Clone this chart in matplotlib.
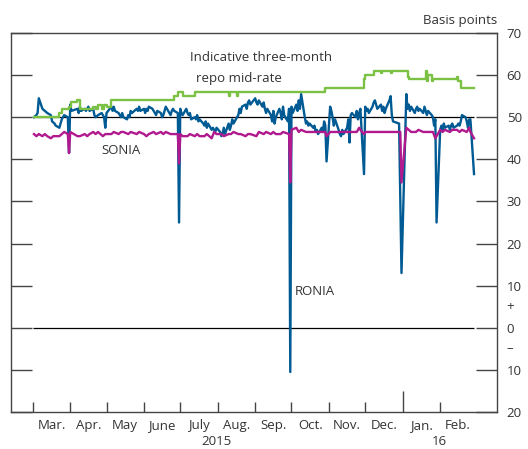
import matplotlib
matplotlib.use('agg')
import matplotlib.pyplot as plt
import matplotlib.ticker as mticker
import pandas as pd

plt.rcParams['font.family'] = ['Open Sans', 'DejaVu Sans']

# RONIA (overnight, blue)
ronia_dates = [
    '2015-03-02', '2015-03-04', '2015-03-05', '2015-03-06', '2015-03-09', '2015-03-11', '2015-03-13',
    '2015-03-16', '2015-03-17', '2015-03-19', '2015-03-20', '2015-03-23', '2015-03-24', '2015-03-25',
    '2015-03-26', '2015-03-27', '2015-03-30', '2015-03-31', '2015-04-01', '2015-04-02', '2015-04-07',
    '2015-04-08', '2015-04-09', '2015-04-10', '2015-04-13', '2015-04-14', '2015-04-16', '2015-04-17',
    '2015-04-20', '2015-04-21', '2015-04-22', '2015-04-24', '2015-04-27', '2015-04-29', '2015-04-30',
    '2015-05-01', '2015-05-05', '2015-05-06', '2015-05-07', '2015-05-08', '2015-05-11', '2015-05-12',
    '2015-05-13', '2015-05-14', '2015-05-15', '2015-05-18', '2015-05-19', '2015-05-20', '2015-05-21',
    '2015-05-22', '2015-05-26', '2015-05-27', '2015-05-28', '2015-05-29', '2015-06-01', '2015-06-02',
    '2015-06-03', '2015-06-04', '2015-06-05', '2015-06-08', '2015-06-09', '2015-06-10', '2015-06-11',
    '2015-06-12', '2015-06-15', '2015-06-16', '2015-06-17', '2015-06-18', '2015-06-19', '2015-06-22',
    '2015-06-23', '2015-06-24', '2015-06-25', '2015-06-26', '2015-06-29', '2015-06-30', '2015-07-01',
    '2015-07-02', '2015-07-03', '2015-07-06', '2015-07-07', '2015-07-08', '2015-07-09', '2015-07-10',
    '2015-07-13', '2015-07-14', '2015-07-15', '2015-07-16', '2015-07-17', '2015-07-20', '2015-07-21',
    '2015-07-22', '2015-07-23', '2015-07-24', '2015-07-27', '2015-07-28', '2015-07-29', '2015-07-30',
    '2015-07-31', '2015-08-03', '2015-08-04', '2015-08-05', '2015-08-06', '2015-08-07', '2015-08-10',
    '2015-08-11', '2015-08-12', '2015-08-13', '2015-08-14', '2015-08-17', '2015-08-18', '2015-08-19',
    '2015-08-20', '2015-08-21', '2015-08-24', '2015-08-25', '2015-08-26', '2015-08-27', '2015-08-28',
    '2015-09-01', '2015-09-02', '2015-09-03', '2015-09-04', '2015-09-07', '2015-09-08', '2015-09-09',
    '2015-09-10', '2015-09-11', '2015-09-14', '2015-09-15', '2015-09-16', '2015-09-17', '2015-09-18',
    '2015-09-21', '2015-09-22', '2015-09-23', '2015-09-24', '2015-09-25', '2015-09-28', '2015-09-29',
    '2015-09-30', '2015-10-01', '2015-10-02', '2015-10-05', '2015-10-06', '2015-10-07', '2015-10-08',
    '2015-10-09', '2015-10-12', '2015-10-13', '2015-10-14', '2015-10-15', '2015-10-16', '2015-10-19',
    '2015-10-20', '2015-10-21', '2015-10-22', '2015-10-23', '2015-10-26', '2015-10-27', '2015-10-28',
    '2015-10-29', '2015-10-30', '2015-11-02', '2015-11-03', '2015-11-04', '2015-11-05', '2015-11-06',
    '2015-11-09', '2015-11-10', '2015-11-11', '2015-11-12', '2015-11-13', '2015-11-16', '2015-11-17',
    '2015-11-18', '2015-11-19', '2015-11-20', '2015-11-23', '2015-11-24', '2015-11-25', '2015-11-26',
    '2015-11-27', '2015-11-30', '2015-12-01', '2015-12-02', '2015-12-03', '2015-12-04', '2015-12-07',
    '2015-12-08', '2015-12-09', '2015-12-10', '2015-12-11', '2015-12-14', '2015-12-15', '2015-12-16',
    '2015-12-17', '2015-12-18', '2015-12-21', '2015-12-22', '2015-12-23', '2015-12-24', '2015-12-29',
    '2015-12-31', '2016-01-04', '2016-01-05', '2016-01-06', '2016-01-07', '2016-01-08', '2016-01-11',
    '2016-01-12', '2016-01-13', '2016-01-14', '2016-01-15', '2016-01-18', '2016-01-19', '2016-01-20',
    '2016-01-21', '2016-01-22', '2016-01-25', '2016-01-26', '2016-01-27', '2016-01-28', '2016-01-29',
    '2016-02-01', '2016-02-02', '2016-02-03', '2016-02-04', '2016-02-05', '2016-02-08', '2016-02-09',
    '2016-02-10', '2016-02-11', '2016-02-12', '2016-02-15', '2016-02-16', '2016-02-17', '2016-02-18',
    '2016-02-19', '2016-02-22', '2016-02-23', '2016-02-24', '2016-02-25', '2016-02-26', '2016-02-29',
]
ronia_values = [
    50.0, 50.5, 51.0, 54.5, 52.0, 51.5, 51.0,
    50.5, 49.0, 48.5, 48.0, 47.5, 48.5, 49.5,
    50.0, 50.5, 50.0, 41.5, 53.0, 51.5, 52.0,
    51.0, 52.5, 51.5, 52.0, 51.5, 52.5, 51.5,
    52.0, 50.5, 50.0, 50.5, 51.0, 50.0, 47.5,
    51.0, 52.5, 51.5, 52.5, 51.5, 51.0, 50.5,
    50.0, 51.0, 50.0, 49.5, 50.5, 50.0, 51.5,
    51.0, 52.0, 51.5, 52.5, 51.5, 52.0, 51.0,
    52.0, 51.5, 52.5, 52.0, 51.5, 51.0, 50.5,
    51.5, 51.0, 50.0, 50.5, 51.5, 52.5, 51.0,
    50.5, 51.5, 52.0, 51.5, 51.0, 25.0, 52.0,
    51.0, 50.5, 52.0, 51.0, 50.5, 51.0, 49.5,
    50.0, 49.5, 50.5, 49.0, 49.5, 48.5, 48.0,
    49.0, 47.5, 48.5, 47.0, 47.5, 47.0, 46.5,
    47.5, 46.5, 45.5, 46.0, 47.5, 46.0, 48.5,
    47.0, 48.0, 49.5, 48.5, 50.0, 50.5, 52.0,
    51.0, 52.5, 53.0, 52.0, 53.5, 54.0, 53.0,
    54.5, 53.5, 53.0, 54.0, 52.5, 53.5, 52.0,
    51.0, 52.0, 50.5, 49.0, 51.5, 48.5, 50.0,
    52.0, 51.0, 49.5, 52.5, 50.5, 49.0, 52.0,
    -10.5, 52.5, 51.0, 53.0, 51.5, 54.0, 52.0,
    55.5, 50.0, 48.5, 49.0, 48.0, 48.5, 47.5,
    48.0, 46.5, 47.0, 46.0, 47.5, 46.5, 49.0,
    48.0, 39.5, 52.5, 51.5, 50.0, 48.0, 49.5,
    47.0, 46.0, 45.5, 47.0, 46.0, 47.5, 49.5,
    44.0, 50.5, 51.0, 50.0, 51.5, 49.5, 51.0,
    52.0, 36.5, 52.5, 51.5, 52.0, 51.0, 52.5,
    53.5, 54.0, 53.0, 52.0, 53.0, 51.5, 52.5,
    51.0, 52.0, 54.0, 55.0, 50.5, 49.0, 48.5,
    13.0, 55.5, 52.0, 53.0, 51.5, 52.5, 51.0,
    52.0, 52.5, 51.5, 52.0, 51.0, 52.5, 51.5,
    50.5, 51.5, 50.5, 50.0, 48.0, 49.5, 25.0,
    47.0, 48.0, 47.0, 48.5, 47.5, 48.0, 47.0,
    48.0, 48.5, 47.5, 48.0, 48.5, 48.0, 49.0,
    50.5, 50.0, 49.0, 47.5, 49.5, 49.5, 36.5,
]

# SONIA (magenta)
sonia_dates = [
    '2015-03-02', '2015-03-04', '2015-03-06', '2015-03-09', '2015-03-11', '2015-03-13', '2015-03-16',
    '2015-03-18', '2015-03-20', '2015-03-23', '2015-03-25', '2015-03-27', '2015-03-30', '2015-03-31',
    '2015-04-01', '2015-04-07', '2015-04-09', '2015-04-13', '2015-04-15', '2015-04-17', '2015-04-20',
    '2015-04-22', '2015-04-24', '2015-04-28', '2015-04-30', '2015-05-05', '2015-05-07', '2015-05-11',
    '2015-05-13', '2015-05-15', '2015-05-19', '2015-05-21', '2015-05-26', '2015-05-28', '2015-06-01',
    '2015-06-03', '2015-06-05', '2015-06-09', '2015-06-11', '2015-06-15', '2015-06-17', '2015-06-19',
    '2015-06-23', '2015-06-25', '2015-06-29', '2015-06-30', '2015-07-01', '2015-07-03', '2015-07-07',
    '2015-07-09', '2015-07-13', '2015-07-15', '2015-07-17', '2015-07-21', '2015-07-23', '2015-07-27',
    '2015-07-29', '2015-07-31', '2015-08-04', '2015-08-06', '2015-08-10', '2015-08-12', '2015-08-14',
    '2015-08-18', '2015-08-20', '2015-08-24', '2015-08-26', '2015-08-28', '2015-09-02', '2015-09-04',
    '2015-09-08', '2015-09-10', '2015-09-14', '2015-09-16', '2015-09-18', '2015-09-22', '2015-09-24',
    '2015-09-29', '2015-09-30', '2015-10-01', '2015-10-05', '2015-10-07', '2015-10-09', '2015-10-13',
    '2015-10-15', '2015-10-20', '2015-10-29', '2015-10-30', '2015-11-02', '2015-11-18', '2015-11-24',
    '2015-11-26', '2015-11-27', '2015-11-30', '2015-12-01', '2015-12-30', '2015-12-31', '2016-01-04',
    '2016-01-06', '2016-01-08', '2016-01-12', '2016-01-14', '2016-01-18', '2016-01-22', '2016-01-26',
    '2016-01-28', '2016-01-29', '2016-02-01', '2016-02-03', '2016-02-05', '2016-02-09', '2016-02-11',
    '2016-02-15', '2016-02-17', '2016-02-19', '2016-02-23', '2016-02-25', '2016-02-26', '2016-02-29',
]
sonia_values = [
    46.0, 45.5, 46.0, 45.5, 46.0, 45.5, 45.0,
    45.5, 45.5, 45.5, 46.0, 46.5, 46.0, 41.5,
    46.5, 45.5, 45.5, 46.0, 45.5, 46.0, 46.5,
    46.0, 46.5, 45.5, 46.0, 46.0, 46.5, 46.0,
    46.5, 46.5, 46.0, 46.5, 46.0, 46.5, 46.0,
    45.5, 46.0, 46.5, 46.0, 46.5, 46.0, 46.5,
    46.0, 46.0, 46.0, 39.0, 46.0, 45.5, 45.5,
    46.0, 45.5, 46.0, 45.5, 45.5, 46.0, 45.0,
    46.5, 46.0, 46.0, 45.5, 46.0, 46.0, 46.5,
    46.0, 46.0, 45.5, 46.0, 46.0, 45.5, 46.5,
    46.0, 46.5, 46.0, 46.5, 46.0, 46.0, 46.5,
    46.0, 34.5, 47.0, 47.5, 46.5, 47.0, 46.5,
    46.5, 46.5, 46.5, 45.5, 46.5, 46.5, 46.5,
    47.5, 47.0, 46.0, 46.5, 46.5, 34.5, 47.5,
    47.0, 46.5, 46.5, 47.0, 46.5, 46.5, 46.5,
    45.0, 45.5, 47.0, 46.5, 47.0, 46.5, 47.0,
    47.0, 46.5, 47.0, 46.5, 47.5, 46.5, 45.0,
]

# Indicative three-month repo mid-rate (green, step-like)
repo_dates = [
    '2015-03-02', '2015-03-23', '2015-03-25', '2015-03-31', '2015-04-02', '2015-04-07', '2015-04-09',
    '2015-04-20', '2015-04-22', '2015-04-24', '2015-04-27', '2015-04-29', '2015-05-01', '2015-05-05',
    '2015-06-26', '2015-06-29', '2015-07-03', '2015-07-13', '2015-08-10', '2015-08-11', '2015-08-17',
    '2015-08-18', '2015-10-29', '2015-11-30', '2015-12-01', '2015-12-08', '2015-12-14', '2015-12-15',
    '2015-12-22', '2015-12-23', '2016-01-05', '2016-01-06', '2016-01-20', '2016-01-21', '2016-01-22',
    '2016-01-25', '2016-01-26', '2016-02-15', '2016-02-16', '2016-02-18', '2016-02-29',
]
repo_values = [
    50.0, 51.0, 52.0, 52.5, 53.5, 54.0, 52.0,
    52.5, 52.0, 53.0, 52.0, 53.0, 52.5, 54.0,
    55.0, 56.0, 55.0, 56.0, 55.0, 56.0, 55.0,
    56.0, 57.0, 59.0, 60.0, 61.0, 60.5, 61.0,
    60.5, 61.0, 59.5, 59.0, 61.0, 58.5, 60.0,
    58.5, 59.0, 59.5, 58.5, 57.0, 57.0,
]

month_labels = ['Mar.', 'Apr.', 'May', 'June', 'July', 'Aug.', 'Sep.', 'Oct.', 'Nov.', 'Dec.', 'Jan.', 'Feb.']

ronia_x = pd.to_datetime(ronia_dates)
sonia_x = pd.to_datetime(sonia_dates)
repo_x = pd.to_datetime(repo_dates)

fig = plt.figure(figsize=(5.28, 4.49), dpi=100)
ax = fig.add_axes([11 / 528, 1 - 412 / 449, 486 / 528, 379 / 449])

ax.hlines([0, 50], pd.Timestamp('2015-03-01'), pd.Timestamp('2016-02-29'), color='black', lw=0.9, zorder=1)
ax.plot(ronia_x, ronia_values, color='#005a93', lw=1.7, zorder=2)
ax.plot(sonia_x, sonia_values, color='#b01a8e', lw=1.7, zorder=3)
ax.plot(repo_x, repo_values, color='#7bc143', lw=1.7, drawstyle='steps-post', zorder=4)

ax.set_xlim(pd.Timestamp('2015-02-11'), pd.Timestamp('2016-03-19'))
ax.set_ylim(-20, 70)

# y axis: ticks both sides, labels on right as absolute values
ax.set_yticks(range(-20, 71, 10))
ax.yaxis.set_major_formatter(mticker.FuncFormatter(lambda v, p: f'{abs(v):.0f}'))
ax.tick_params(axis='y', left=True, right=True, labelleft=False, labelright=True,
               direction='in', length=15, width=1, color='#444444',
               labelsize=9.5, labelcolor='#333333', pad=7)

# x axis: month start ticks, labels centred at mid-month
month_starts = pd.date_range('2015-03-01', '2016-02-01', freq='MS')
month_ends = pd.date_range('2015-04-01', '2016-03-01', freq='MS')
mids = month_starts + (month_ends - month_starts) / 2
ax.set_xticks(month_starts)
ax.set_xticklabels([])
ax.set_xticks(mids, minor=True)
ax.set_xticklabels(month_labels, minor=True)
ax.tick_params(axis='x', which='major', direction='in', length=7, width=1, color='#444444')
ax.tick_params(axis='x', which='minor', length=0, labelsize=9.5, labelcolor='#333333', pad=5)
ax.xaxis.get_major_ticks()[10].tick1line.set_markersize(15)

for s in ax.spines.values():
    s.set_color('#444444')
    s.set_linewidth(1)

txt = dict(fontsize=9.5, color='#333333')
ax.text(pd.Timestamp('2015-07-09'), 64.3, 'Indicative three-month', va='center', ha='left', **txt)
ax.text(pd.Timestamp('2015-07-14'), 59.3, 'repo mid-rate', va='center', ha='left', **txt)
ax.text(pd.Timestamp('2015-04-27'), 42.0, 'SONIA', va='center', ha='left', **txt)
ax.text(pd.Timestamp('2015-10-04'), 8.6, 'RONIA', va='center', ha='left', **txt)
ax.text(1.0, 1.032, 'Basis points', transform=ax.transAxes, ha='right', va='center', **txt)

# sign markers between the zero line labels
ax.text(1.027, 5, '+', transform=ax.get_yaxis_transform(), ha='center', va='center', **txt)
ax.text(1.027, -5, '–', transform=ax.get_yaxis_transform(), ha='center', va='center', **txt)

# year labels under the months
ax.text(pd.Timestamp('2015-07-31'), -0.095, '2015', transform=ax.get_xaxis_transform(), ha='center', va='bottom', **txt)
ax.text(pd.Timestamp('2016-01-31'), -0.095, '16', transform=ax.get_xaxis_transform(), ha='center', va='bottom', **txt)

fig.savefig('out.png', dpi=100)
